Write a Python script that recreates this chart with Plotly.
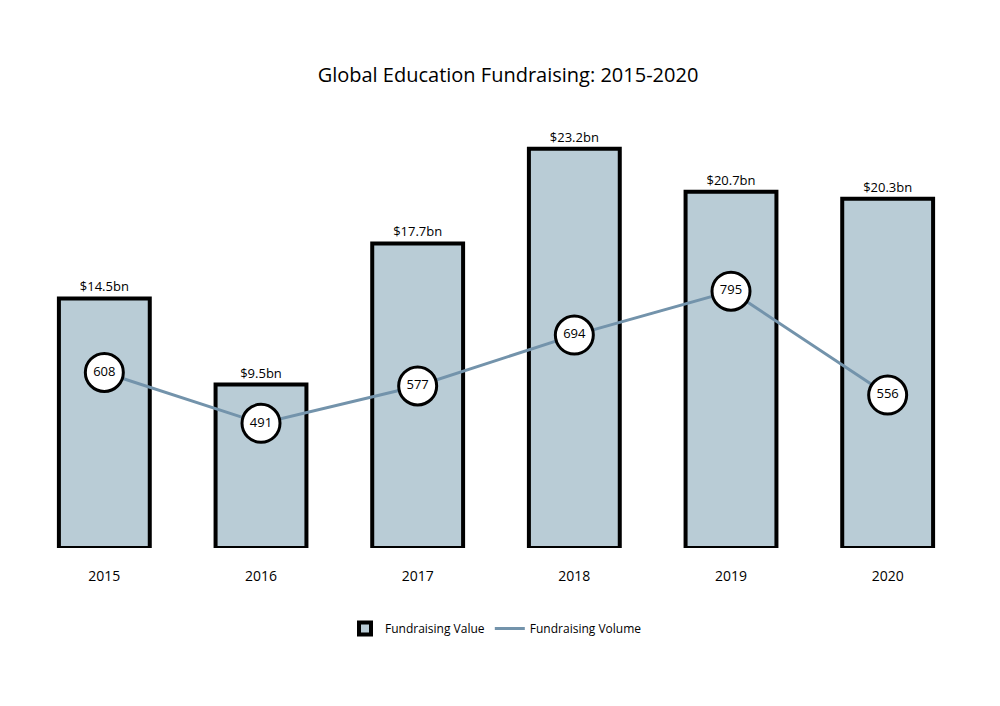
import plotly.graph_objects as go

years = ["2015", "2016", "2017", "2018", "2019", "2020"]
value_bn = [14.5, 9.5, 17.7, 23.2, 20.7, 20.3]
value_labels = ["$14.5bn", "$9.5bn", "$17.7bn", "$23.2bn", "$20.7bn", "$20.3bn"]
volume = [608, 491, 577, 694, 795, 556]

font_name = "Open Sans"
line_color = "#7393ab"

fig = go.Figure()

fig.add_trace(go.Bar(
    x=years, y=value_bn,
    name="Fundraising Value",
    marker=dict(color="#b9ccd6", line=dict(color="black", width=4)),
    text=value_labels, textposition="outside",
    textfont=dict(size=13, color="black"),
    width=0.58,
    cliponaxis=False,
))

fig.add_trace(go.Scatter(
    x=years, y=volume,
    name="Fundraising Volume",
    yaxis="y2",
    mode="lines+markers+text",
    line=dict(color=line_color, width=3),
    marker=dict(size=38, color="white", line=dict(color="black", width=3)),
    text=[str(v) for v in volume], textposition="middle center",
    textfont=dict(size=13, color="black"),
    showlegend=False,
))

# legend entry drawn as a plain line
fig.add_trace(go.Scatter(
    x=[None], y=[None], yaxis="y2",
    name="Fundraising Volume",
    mode="lines",
    line=dict(color=line_color, width=3),
))

fig.update_layout(
    width=1000, height=706,
    paper_bgcolor="white", plot_bgcolor="white",
    font=dict(family=font_name, color="black"),
    title=dict(text="Global Education Fundraising: 2015-2020", x=0.5, y=0.915,
               xanchor="center", font=dict(size=20)),
    margin=dict(l=18, r=42, t=100, b=166),
    xaxis=dict(showgrid=False, showline=False, ticks="", tickfont=dict(size=14),
               ticklabelstandoff=18),
    yaxis=dict(range=[0, 25.57], visible=False),
    yaxis2=dict(range=[204.5, 1216], overlaying="y", side="right", visible=False),
    legend=dict(orientation="h", x=0.5, xanchor="center", y=-0.15, yanchor="top",
                font=dict(size=12)),
    showlegend=True,
)

fig.write_html("out.html")
